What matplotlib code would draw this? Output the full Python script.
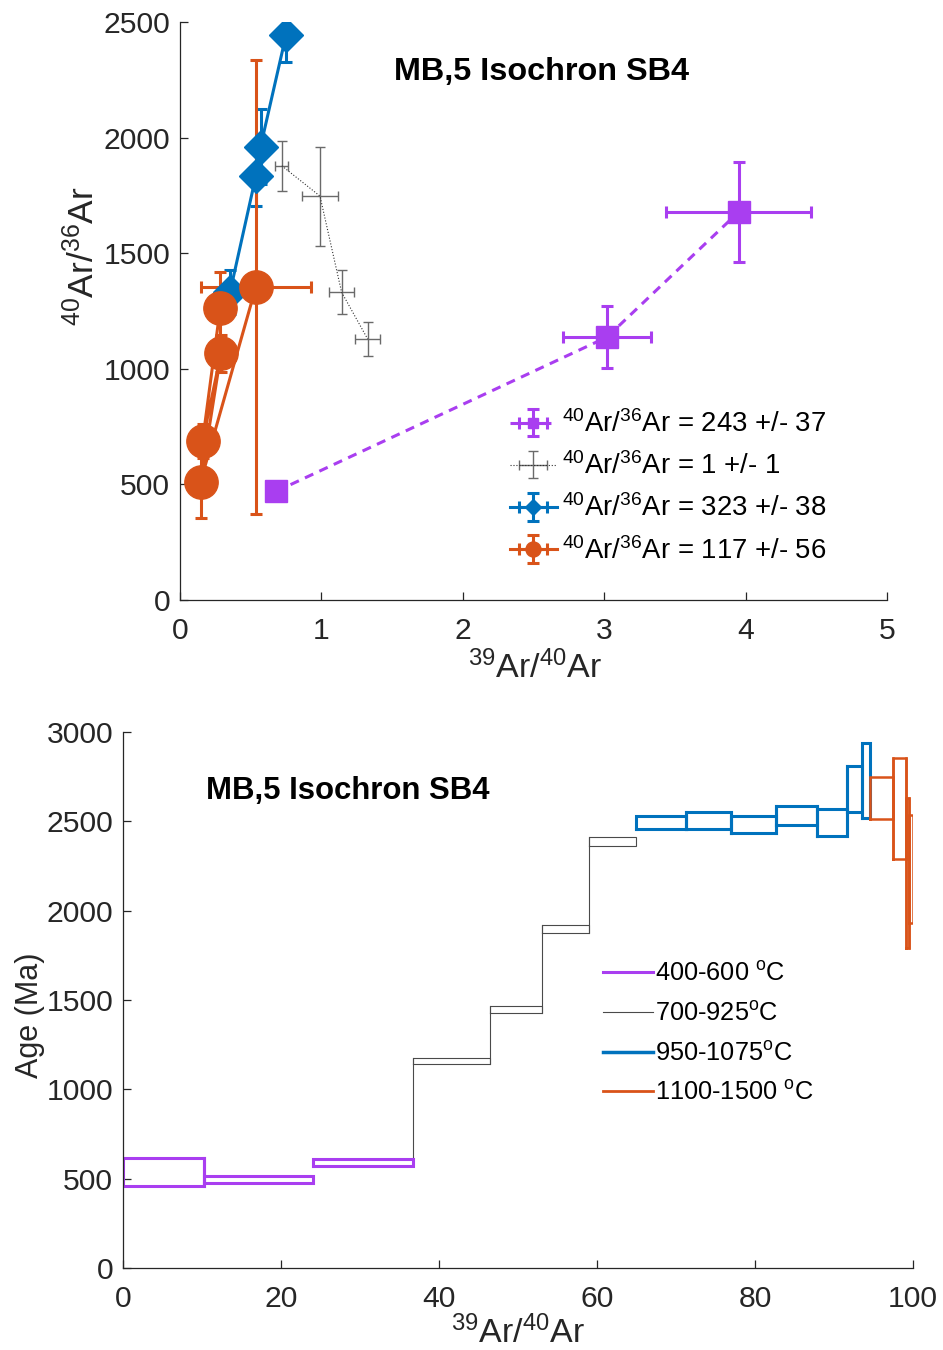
import numpy as np
import matplotlib
matplotlib.use('Agg')
import matplotlib.pyplot as plt

plt.rcParams['font.family'] = ['Liberation Sans', 'DejaVu Sans']
plt.rcParams['mathtext.fontset'] = 'custom'
plt.rcParams['mathtext.rm'] = 'Liberation Sans'
plt.rcParams['mathtext.it'] = 'Liberation Sans:italic'
plt.rcParams['mathtext.bf'] = 'Liberation Sans:bold'
plt.rcParams['mathtext.default'] = 'regular'

# ---------------- isochron data (39Ar/40Ar vs 40Ar/36Ar) ----------------
purple_x = [0.68, 3.02, 3.95]
purple_y = [470, 1137, 1678]
purple_xerr = [0.02, 0.31, 0.51]
purple_yerr = [15, 135, 216]

gray_x = [0.72, 0.99, 1.143, 1.327]
gray_y = [1878, 1747, 1331, 1129]
gray_xerr = [0.045, 0.126, 0.086, 0.09]
gray_yerr = [108, 214, 96, 72]

blue_x = [0.354, 0.537, 0.57, 0.75]
blue_y = [1332, 1835, 1961, 2444]
blue_xerr = [0.02, 0.02, 0.02, 0.02]
blue_yerr = [95, 131, 163, 117]

orange_x = [0.285, 0.16, 0.29, 0.146, 0.537]
orange_y = [1265, 688, 1067, 512, 1355]
orange_xerr = [0.02, 0.02, 0.02, 0.02, 0.39]
orange_yerr = [152, 73, 79, 157, 982]

iso_labels = [r'$^{40}$Ar/$^{36}$Ar = 243 +/- 37',
              r'$^{40}$Ar/$^{36}$Ar = 1 +/- 1',
              r'$^{40}$Ar/$^{36}$Ar = 323 +/- 38',
              r'$^{40}$Ar/$^{36}$Ar = 117 +/- 56']

# ---------------- age spectrum (step heating) ----------------
step_gas = [10.3, 13.8, 12.6, 9.7, 6.6, 6.0, 5.9, 6.4, 5.6, 5.8, 5.2, 3.7,
            2.0, 1.0, 2.9, 1.6, 0.4, 0.5]
step_age = [538, 494.5, 590.5, 1156.5, 1446.5, 1897, 2386, 2493.5, 2502.5,
            2480.5, 2532, 2493, 2683, 2728.5, 2630.5, 2570.5, 2208.5, 2232]
step_err = [79, 20.5, 17.5, 16.5, 21.5, 24, 24, 35.5, 47.5, 48.5, 53, 74,
            129, 211.5, 119.5, 281.5, 419.5, 303]
step_group = [0, 0, 0, 1, 1, 1, 1, 2, 2, 2, 2, 2, 2, 2, 3, 3, 3, 3]
# first step each group's staircase starts from (the gray run continues
# from the last low-temperature step)
group_start = [0, 2, 7, 13]
group_labels = [r'400-600 $^{o}$C', r'700-925$^{o}$C',
                r'950-1075$^{o}$C', r'1100-1500 $^{o}$C']

title_text = 'MB,5 Isochron SB4'

PURPLE = '#A93EF0'
GRAY = '#6a6a6a'
BLUE = '#0072BD'
ORANGE = '#D95319'
AXC = '#262626'

fig = plt.figure(figsize=(9.43, 13.5), dpi=100)


def style_axes(ax):
    for s in ('top', 'right'):
        ax.spines[s].set_visible(False)
    for s in ('left', 'bottom'):
        ax.spines[s].set_color(AXC)
        ax.spines[s].set_linewidth(0.9)
    ax.tick_params(direction='in', length=6, width=0.9, colors=AXC,
                   labelsize=21.7)
    ax.tick_params(axis='x', pad=12)
    ax.tick_params(axis='y', pad=7)


# ---------------- top panel: isochron ----------------
ax1 = fig.add_axes([180 / 943, 1 - 600 / 1350, 707 / 943, 578 / 1350])
style_axes(ax1)

h_p = ax1.errorbar(purple_x, purple_y, xerr=purple_xerr, yerr=purple_yerr,
                   color=PURPLE, ls=(0, (3, 2.2)), lw=2.2, marker='s', ms=16,
                   mfc=PURPLE, mec=PURPLE, elinewidth=2.2, capsize=4.3,
                   capthick=2.2)
h_g = ax1.errorbar(gray_x, gray_y, xerr=gray_xerr, yerr=gray_yerr,
                   color=GRAY, ls=':', lw=0.8, marker='none',
                   elinewidth=1.0, capsize=3.8, capthick=1.0)
h_g[0].set_color('#303030')
h_b = ax1.errorbar(blue_x, blue_y, xerr=blue_xerr, yerr=blue_yerr,
                   color=BLUE, ls='-', lw=2.2, marker='D', ms=17,
                   mfc=BLUE, mec=BLUE, elinewidth=2.2, capsize=4.3,
                   capthick=2.2)
h_o = ax1.errorbar(orange_x, orange_y, xerr=orange_xerr, yerr=orange_yerr,
                   color=ORANGE, ls='-', lw=2.2, marker='o', ms=24,
                   mfc=ORANGE, mec=ORANGE, elinewidth=2.2, capsize=4.3,
                   capthick=2.2)

ax1.set_xlim(0, 5)
ax1.set_ylim(0, 2500)
ax1.set_xticks([0, 1, 2, 3, 4, 5])
ax1.set_yticks([0, 500, 1000, 1500, 2000, 2500])
ax1.set_xlabel(r'$^{39}$Ar/$^{40}$Ar', fontsize=24.5, color=AXC)
ax1.set_ylabel(r'$^{40}$Ar/$^{36}$Ar', fontsize=25.5, color=AXC)
ax1.xaxis.set_label_coords(0.502, -0.088)
ax1.yaxis.set_label_coords(-0.112, 0.595)
ax1.text(2.56, 2284, title_text, fontsize=23.3, fontweight='bold',
         ha='center', va='center', color='black')

ax1.legend([h_p, h_g, h_b, h_o], iso_labels, loc='upper left',
           bbox_to_anchor=(0.451, 0.347), frameon=False, fontsize=19.8,
           markerscale=0.45, handlelength=1.7, handletextpad=0.2,
           labelspacing=0.52, borderaxespad=0)

# ---------------- bottom panel: age spectrum ----------------
ax2 = fig.add_axes([123 / 943, 1 - 1268 / 1350, 790 / 943, 536 / 1350])
style_axes(ax2)

edges = np.concatenate([[0], np.cumsum(step_gas)])
lo = np.array(step_age) - np.array(step_err)
hi = np.array(step_age) + np.array(step_err)
group_colors = [PURPLE, '#4a4a4a', BLUE, ORANGE]
group_lw = [2.2, 0.8, 2.2, 1.8]
group_end = group_start[1:] + [len(step_age)]

for g in range(len(group_labels)):
    col, w = group_colors[g], group_lw[g]
    # risers joining neighbouring steps of this run
    for i in range(group_start[g] + 1, group_end[g]):
        if step_group[i] != g:
            continue
        ax2.plot([edges[i], edges[i]],
                 [min(lo[i - 1], lo[i]), max(hi[i - 1], hi[i])],
                 color=col, lw=w)

for i in range(len(step_age)):
    g = step_group[i]
    x0, x1 = edges[i], edges[i + 1]
    ax2.plot([x0, x1, x1, x0, x0], [lo[i], lo[i], hi[i], hi[i], lo[i]],
             color=group_colors[g], lw=group_lw[g], solid_joinstyle='miter')

handles2 = [plt.Line2D([], [], color=c, lw=w)
            for c, w in zip(group_colors, [2.2, 0.8, 2.5, 2.0])]
ax2.legend(handles2, group_labels, loc='upper left',
           bbox_to_anchor=(0.595, 0.59), frameon=False, fontsize=18.3,
           handlelength=1.95, handletextpad=0.1, labelspacing=0.62,
           borderaxespad=0)

ax2.set_xlim(0, 100)
ax2.set_ylim(0, 3000)
ax2.set_xticks([0, 20, 40, 60, 80, 100])
ax2.set_yticks([0, 500, 1000, 1500, 2000, 2500, 3000])
ax2.set_xlabel(r'$^{39}$Ar/$^{40}$Ar', fontsize=24.5, color=AXC)
ax2.set_ylabel('Age (Ma)', fontsize=22, color=AXC)
ax2.xaxis.set_label_coords(0.5, -0.088)
ax2.yaxis.set_label_coords(-0.099, 0.472)
ax2.text(28.5, 2669, title_text, fontsize=22.4, fontweight='bold',
         ha='center', va='center', color='black')

fig.savefig('out.png', dpi=100)
